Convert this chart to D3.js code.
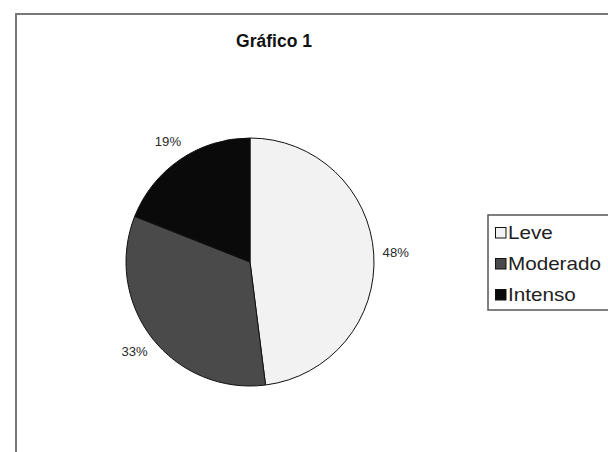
<!DOCTYPE html>
<html>
<head>
<meta charset="utf-8">
<script src="https://cdn.jsdelivr.net/npm/d3@7"></script>
<style>
  body { margin: 0; background: #fff; }
  svg { display: block; }
</style>
</head>
<body>
<div id="chart"></div>
<script>
var categories = ["Leve", "Moderado", "Intenso"];
var values = [48, 33, 19];
var fills = ["#f2f2f2", "#4a4a4a", "#0a0a0a"];

var width = 608, height = 452;
var cx = 250, cy = 262, radius = 124;

var svg = d3.select("#chart")
    .append("svg")
    .attr("width", width)
    .attr("height", height);

// outer chart frame (runs off the right and bottom edges)
svg.append("rect")
    .attr("x", 16)
    .attr("y", 14)
    .attr("width", 620)
    .attr("height", 460)
    .attr("fill", "#fff")
    .attr("stroke", "#777")
    .attr("stroke-width", 2);

svg.append("text")
    .attr("x", 274)
    .attr("y", 47)
    .attr("text-anchor", "middle")
    .attr("font-family", "Liberation Sans, Arial, sans-serif")
    .attr("font-weight", "bold")
    .attr("font-size", 17.5)
    .attr("fill", "#111")
    .text("Gráfico 1");

var data = categories.map(function(c, i) {
    return {name: c, value: values[i], fill: fills[i]};
});

var pie = d3.pie()
    .sort(null)
    .value(function(d) { return d.value; });

var arc = d3.arc()
    .innerRadius(0)
    .outerRadius(radius);

var labelArc = d3.arc()
    .innerRadius(146)
    .outerRadius(146);

var g = svg.append("g")
    .attr("transform", "translate(" + cx + "," + cy + ")");

var slices = g.selectAll(".slice")
    .data(pie(data))
    .enter()
    .append("g")
    .attr("class", "slice");

slices.append("path")
    .attr("d", arc)
    .attr("fill", function(d) { return d.data.fill; })
    .attr("stroke", "#111")
    .attr("stroke-width", 1);

slices.append("text")
    .attr("transform", function(d) {
        return "translate(" + labelArc.centroid(d) + ") scale(1.05,1)";
    })
    .attr("dy", "0.35em")
    .attr("text-anchor", "middle")
    .attr("font-family", "Liberation Sans, Arial, sans-serif")
    .attr("font-size", 12.5)
    .attr("fill", "#2a2a2a")
    .text(function(d) { return d.data.value + "%"; });

// legend
var legend = svg.append("g");

legend.append("rect")
    .attr("x", 488)
    .attr("y", 215)
    .attr("width", 140)
    .attr("height", 95)
    .attr("fill", "#fff")
    .attr("stroke", "#555")
    .attr("stroke-width", 1.5);

var items = legend.selectAll(".item")
    .data(data)
    .enter()
    .append("g")
    .attr("class", "item")
    .attr("transform", function(d, i) {
        return "translate(495," + (239 + i * 31) + ")";
    });

items.append("rect")
    .attr("x", 0.5)
    .attr("y", -11.5)
    .attr("width", 10.5)
    .attr("height", 10.5)
    .attr("fill", function(d) { return d.fill; })
    .attr("stroke", "#111")
    .attr("stroke-width", 1);

items.append("text")
    .attr("transform", "translate(13,0) scale(1.18,1)")
    .attr("font-family", "Liberation Sans, Arial, sans-serif")
    .attr("font-size", 17.5)
    .attr("fill", "#222")
    .text(function(d) { return d.name; });
</script>
</body>
</html>
